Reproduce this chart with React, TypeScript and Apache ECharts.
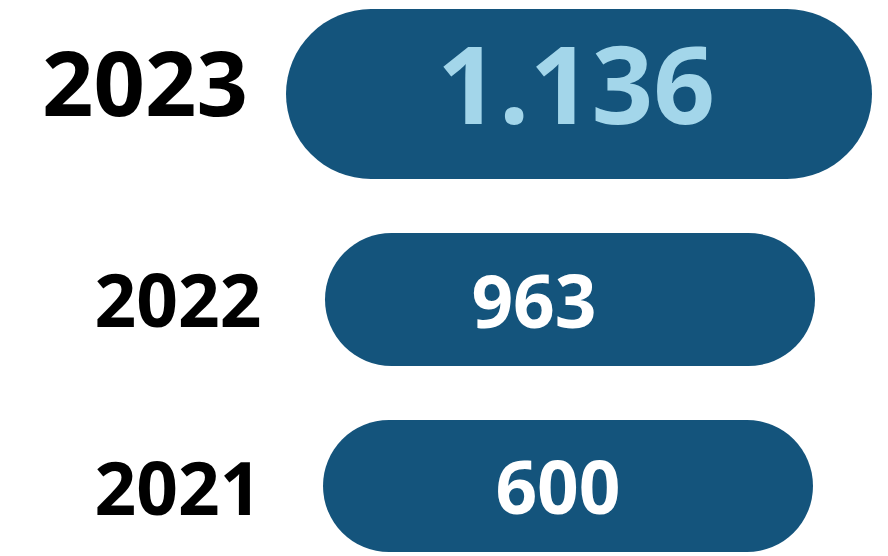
import React, { useEffect, useRef } from "react";
import * as echarts from "echarts";

// ---- data ----
const years = ["2023", "2022", "2021"];
const values = [1136, 963, 600];

// ---- layout / style (canvas units, not data) ----
const pillLayout = [
  { x0: 286, x1: 872, y0: 9, y1: 179 },
  { x0: 325, x1: 815, y0: 233, y1: 366 },
  { x0: 323, x1: 813, y0: 420, y1: 552 },
];
const valueTextLayout = [
  { x: 576, y: 82, size: 108, color: "#A3D6EA" },
  { x: 534, y: 299, size: 73, color: "#FFFFFF" },
  { x: 558, y: 485, size: 73, color: "#FFFFFF" },
];
const yearTextLayout = [
  { x: 145, y: 81, size: 90 },
  { x: 178, y: 298, size: 73 },
  { x: 178, y: 486, size: 73 },
];
const PILL_COLOR = "#14547C";
const FONT = "'Open Sans', 'Noto Sans', sans-serif";

const fmt = (v: number) => v.toLocaleString("de-DE");

export default function App() {
  const ref = useRef<HTMLDivElement>(null);
  useEffect(() => {
    document.body.style.margin = "0";
    document.body.style.background = "#FFFFFF";
    if (!ref.current) return;
    const chart = echarts.init(ref.current, undefined, { renderer: "svg" });
    chart.setOption({
      animation: false,
      backgroundColor: "#FFFFFF",
      grid: { left: 0, right: 0, top: 0, bottom: 0 },
      xAxis: { type: "value", min: 0, max: 888, show: false },
      yAxis: { type: "value", min: 0, max: 556, inverse: true, show: false },
      series: [
        {
          type: "custom",
          data: values.map((v, i) => [i, v]),
          renderItem: (params: any, api: any) => {
            const i = api.value(0) as number;
            const v = api.value(1) as number;
            const p = pillLayout[i];
            const a = api.coord([p.x0, p.y0]);
            const b = api.coord([p.x1, p.y1]);
            const h = b[1] - a[1];
            const vt = valueTextLayout[i];
            const vp = api.coord([vt.x, vt.y]);
            const yt = yearTextLayout[i];
            const yp = api.coord([yt.x, yt.y]);
            return {
              type: "group",
              children: [
                {
                  type: "rect",
                  shape: { x: a[0], y: a[1], width: b[0] - a[0], height: h, r: h / 2 },
                  style: { fill: PILL_COLOR },
                },
                {
                  type: "text",
                  style: {
                    text: fmt(v),
                    x: vp[0],
                    y: vp[1],
                    align: "center",
                    verticalAlign: "middle",
                    fontSize: vt.size,
                    fontWeight: "bold",
                    fontFamily: FONT,
                    fill: vt.color,
                  },
                },
                {
                  type: "text",
                  style: {
                    text: years[i],
                    x: yp[0],
                    y: yp[1],
                    align: "center",
                    verticalAlign: "middle",
                    fontSize: yt.size,
                    fontWeight: "bold",
                    fontFamily: FONT,
                    fill: "#000000",
                  },
                },
              ],
            };
          },
        },
      ],
    });
    return () => chart.dispose();
  }, []);
  return <div ref={ref} style={{ width: 888, height: 556 }} />;
}
